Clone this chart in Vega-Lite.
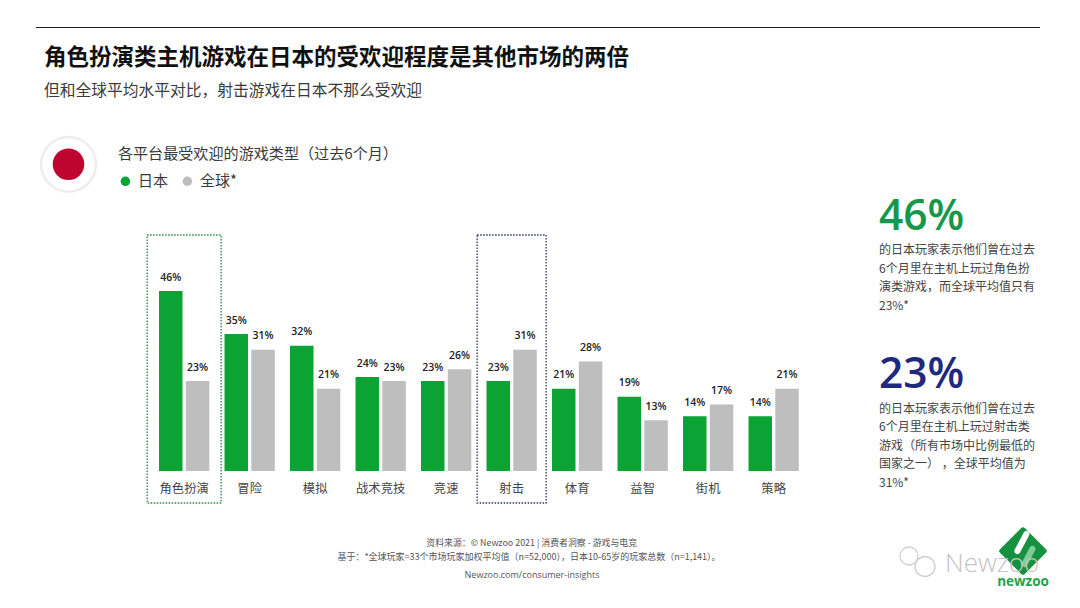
{
"$schema":"https://vega.github.io/schema/vega-lite/v6.json",
"width":655,"height":180,
"autosize":{"type":"none"},
"padding":{"left":151.4,"top":291,"right":273.6,"bottom":137},
"background":"white",
"config":{"view":{"stroke":null}},
"title":{"text":"角色扮演类主机游戏在日本的受欢迎程度是其他市场的两倍","subtitle":"但和全球平均水平对比，射击游戏在日本不那么受欢迎","anchor":"start","frame":"group","dx":-107.4,"offset":-72,"font":"Noto Sans CJK SC","fontSize":22.5,"fontWeight":"bold","color":"#111111","subtitleFont":"Noto Sans CJK SC","subtitleFontSize":15.75,"subtitleColor":"#3a3a3a","subtitlePadding":15},
"datasets":{
"games":[
{"genre":"角色扮演","region":"日本","share":0.46},{"genre":"角色扮演","region":"全球*","share":0.23},
{"genre":"冒险","region":"日本","share":0.35},{"genre":"冒险","region":"全球*","share":0.31},
{"genre":"模拟","region":"日本","share":0.32},{"genre":"模拟","region":"全球*","share":0.21},
{"genre":"战术竞技","region":"日本","share":0.24},{"genre":"战术竞技","region":"全球*","share":0.23},
{"genre":"竞速","region":"日本","share":0.23},{"genre":"竞速","region":"全球*","share":0.26},
{"genre":"射击","region":"日本","share":0.23},{"genre":"射击","region":"全球*","share":0.31},
{"genre":"体育","region":"日本","share":0.21},{"genre":"体育","region":"全球*","share":0.28},
{"genre":"益智","region":"日本","share":0.19},{"genre":"益智","region":"全球*","share":0.13},
{"genre":"街机","region":"日本","share":0.14},{"genre":"街机","region":"全球*","share":0.17},
{"genre":"策略","region":"日本","share":0.14},{"genre":"策略","region":"全球*","share":0.21}
],
"note":[{"kind":"annotation"}]
},
"layer":[
{"data":{"name":"note"},"mark":{"type":"rule","stroke":"#222222","strokeWidth":1},"encoding":{"x":{"value":-115.4},"x2":{"value":888.6},"y":{"value":-263.5}}},
{"data":{"name":"note"},"mark":{"type":"point","x":-82.9,"y":-126.7,"size":3000,"filled":true,"fill":"white","stroke":"#efecf1","strokeWidth":2.5,"opacity":1},"encoding":{}},
{"data":{"name":"note"},"mark":{"type":"point","x":-82.9,"y":-126.7,"size":1000,"filled":true,"fill":"#bd0530","opacity":1},"encoding":{}},
{"data":{"name":"games"},"mark":{"type":"bar"},
"encoding":{
"x":{"field":"genre","type":"nominal","title":null,"scale":{"domain":["角色扮演","冒险","模拟","战术竞技","竞速","射击","体育","益智","街机","策略"],"paddingInner":0.232,"paddingOuter":0.116},"axis":{"domain":false,"ticks":false,"labelAngle":0,"labelPadding":11,"labelFont":"Noto Sans CJK SC","labelFontSize":12.3,"labelColor":"#444444"}},
"xOffset":{"field":"region","type":"nominal","sort":["日本","全球*"],"scale":{"paddingInner":0.123,"paddingOuter":0}},
"y":{"field":"share","type":"quantitative","scale":{"domain":[0,0.46],"nice":false},"axis":null},
"color":{"field":"region","type":"nominal","sort":["日本","全球*"],"scale":{"domain":["日本","全球*"],"range":["#0aa334","#bebebe"]},
"legend":{"title":"各平台最受欢迎的游戏类型（过去6个月）","orient":"none","legendX":-33.5,"legendY":-144.5,"direction":"horizontal","columns":2,"symbolType":"circle","symbolSize":90,"symbolStrokeWidth":0,"labelOffset":5,"columnPadding":11,"titleFont":"Noto Sans CJK SC","titleFontSize":15.1,"titleFontWeight":"normal","titleColor":"#3a3a3a","titlePadding":12,"titleLimit":400,"labelFont":"Noto Sans CJK SC","labelFontSize":15,"labelColor":"#3a3a3a"}}
}},
{"data":{"values":[{"genre":"角色扮演"}]},"mark":{"type":"bar","width":74,"y":-56,"y2":212,"filled":false,"stroke":"#1f8a48","strokeWidth":1.3,"strokeDash":[1.5,1.5]},"encoding":{"x":{"field":"genre","type":"nominal"}}},
{"data":{"values":[{"genre":"射击"}]},"mark":{"type":"bar","width":69,"y":-56,"y2":212,"filled":false,"stroke":"#2b3468","strokeWidth":1.3,"strokeDash":[1.5,1.5]},"encoding":{"x":{"field":"genre","type":"nominal"}}},
{"data":{"name":"games"},"mark":{"type":"text","baseline":"middle","dy":-13.5,"font":"Open Sans","fontSize":10.5,"fontWeight":600,"color":"#222222"},
"encoding":{
"x":{"field":"genre","type":"nominal"},
"xOffset":{"field":"region","type":"nominal","sort":["日本","全球*"]},
"y":{"field":"share","type":"quantitative"},
"text":{"field":"share","type":"quantitative","format":".0%"}
}},
{"data":{"name":"note"},"mark":{"type":"text","align":"left","baseline":"alphabetic","x":727.6,"y":-61,"text":"46%","font":"Open Sans","fontSize":42.5,"fontWeight":600,"color":"#16974a"},"encoding":{}},
{"data":{"name":"note"},"mark":{"type":"text","align":"left","baseline":"middle","x":727.6,"y":-41,"lineHeight":18.6,"text":["的日本玩家表示他们曾在过去","6个月里在主机上玩过角色扮","演类游戏，而全球平均值只有","23%*"],"font":"Noto Sans CJK SC","fontSize":12,"color":"#444444"},"encoding":{}},
{"data":{"name":"note"},"mark":{"type":"text","align":"left","baseline":"alphabetic","x":727.6,"y":97,"text":"23%","font":"Open Sans","fontSize":42.5,"fontWeight":600,"color":"#1f2a7e"},"encoding":{}},
{"data":{"name":"note"},"mark":{"type":"text","align":"left","baseline":"middle","x":727.6,"y":117.5,"lineHeight":18.6,"text":["的日本玩家表示他们曾在过去","6个月里在主机上玩过射击类","游戏（所有市场中比例最低的","国家之一） ，全球平均值为","31%*"],"font":"Noto Sans CJK SC","fontSize":12,"color":"#444444"},"encoding":{}},
{"data":{"name":"note"},"mark":{"type":"text","align":"center","baseline":"middle","x":380.3,"y":252,"text":"资料来源：© Newzoo 2021 | 消费者洞察 - 游戏与电竞","font":"Noto Sans CJK SC","fontSize":8.9,"color":"#555555"},"encoding":{}},
{"data":{"name":"note"},"mark":{"type":"text","align":"center","baseline":"middle","x":377.6,"y":266,"text":"基于：*全球玩家=33个市场玩家加权平均值（n=52,000），日本10-65岁的玩家总数（n=1,141）。","font":"Noto Sans CJK SC","fontSize":9,"color":"#555555"},"encoding":{}},
{"data":{"name":"note"},"mark":{"type":"text","align":"center","baseline":"middle","x":380.6,"y":284,"text":"Newzoo.com/consumer-insights","font":"Open Sans","fontSize":9,"color":"#555555"},"encoding":{}},
{"data":{"name":"note"},"mark":{"type":"point","shape":"diamond","x":871.6,"y":260,"size":1800,"filled":true,"fill":"#16913f","stroke":"#16913f","strokeWidth":5,"strokeJoin":"round","opacity":1},"encoding":{}},
{"data":{"name":"note"},"mark":{"type":"rule","stroke":"white","strokeWidth":6,"strokeCap":"round"},"encoding":{"x":{"value":875},"x2":{"value":866},"y":{"value":243},"y2":{"value":260}}},
{"data":{"name":"note"},"mark":{"type":"rule","stroke":"#7fcf95","strokeWidth":6,"strokeCap":"round"},"encoding":{"x":{"value":881},"x2":{"value":873},"y":{"value":258},"y2":{"value":273}}},
{"data":{"name":"note"},"mark":{"type":"text","align":"center","baseline":"middle","x":871.6,"y":290.7,"text":"newzoo","font":"Open Sans","fontSize":13.5,"fontWeight":"bold","color":"#1fa44a"},"encoding":{}},
{"data":{"name":"note"},"mark":{"type":"text","align":"left","baseline":"middle","x":793.6,"y":272.5,"text":"Newzoo","font":"Open Sans","fontSize":26,"fontWeight":300,"color":"#c4c4c4"},"encoding":{}},
{"data":{"name":"note"},"mark":{"type":"point","x":757.6,"y":265,"size":324,"filled":false,"stroke":"#cfcfcf","strokeWidth":1.3,"opacity":1},"encoding":{}},
{"data":{"name":"note"},"mark":{"type":"point","x":773.6,"y":275.5,"size":400,"filled":true,"fill":"white","stroke":"#cfcfcf","strokeWidth":1.3,"opacity":1},"encoding":{}}
]
}
